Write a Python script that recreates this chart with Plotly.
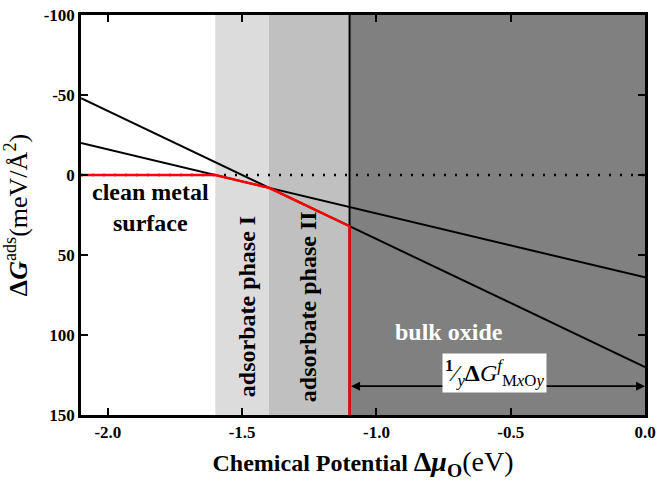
import plotly.graph_objects as go

# Data
mu = [-2.1, 0.0]
phase1_line = [-48, 120]      # steeper free energy line
phase2_line = [-20, 64]       # shallower free energy line
stable_x = [-2.1, -1.6, -1.4, -1.1, -1.1]
stable_y = [0, 0, 8, 32, 150]
region_bounds = [-1.6, -1.4, -1.1, 0.0]
region_colors = ["#dcdcdc", "#c0c0c0", "#808080"]
oxide_edge = -1.1
arrow_y = 132
x_ticks = [-2.0, -1.5, -1.0, -0.5, 0.0]
x_tick_text = ["-2.0", "-1.5", "-1.0", "-0.5", "0.0"]
y_ticks = [-100, -50, 0, 50, 100, 150]
y_tick_text = ["-100", "-50", "0", "50", "100", "150"]

SERIF = "Liberation Serif"

fig = go.Figure()

shapes = []
for i, c in enumerate(region_colors):
    shapes.append(dict(type="rect", xref="x", yref="y", x0=region_bounds[i], x1=region_bounds[i + 1],
                       y0=-100, y1=150, fillcolor=c, line=dict(width=0), layer="below"))
fig.update_layout(shapes=shapes)

fig.add_trace(go.Scatter(x=mu, y=[0, 0], mode="lines",
                         line=dict(color="black", width=2.5, dash="2px,9px"), hoverinfo="skip"))
fig.add_trace(go.Scatter(x=[oxide_edge, oxide_edge], y=[-100, 150], mode="lines",
                         line=dict(color="black", width=2), hoverinfo="skip"))
fig.add_trace(go.Scatter(x=mu, y=phase1_line, mode="lines", line=dict(color="black", width=2), hoverinfo="skip"))
fig.add_trace(go.Scatter(x=mu, y=phase2_line, mode="lines", line=dict(color="black", width=2), hoverinfo="skip"))
fig.add_trace(go.Scatter(x=stable_x, y=stable_y, mode="lines", line=dict(color="red", width=2.5), hoverinfo="skip"))

tf = dict(family=SERIF, size=17, color="black", weight="bold")

fig.update_xaxes(range=[-2.1, 0.0], tickvals=x_ticks, ticktext=x_tick_text,
                 ticks="inside", ticklen=7, tickwidth=2, tickcolor="black",
                 showline=True, linewidth=2.5, linecolor="black", mirror="ticks",
                 showgrid=False, zeroline=False, tickfont=tf, automargin=False,
                 title=dict(text="<b>Chemical Potential </b><span style='font-size:28px'><b>Δ<i>μ</i></b><sub><b>O</b></sub>(eV)</span>",
                            font=dict(family=SERIF, size=24, color="black"), standoff=18))
fig.update_yaxes(range=[150, -100], tickvals=y_ticks, ticktext=y_tick_text,
                 ticks="inside", ticklen=7, tickwidth=2, tickcolor="black",
                 showline=True, linewidth=2.5, linecolor="black", mirror="ticks",
                 showgrid=False, zeroline=False, tickfont=tf, automargin=False,
                 title=dict(text="<b>Δ<i>G</i></b><sup>ads</sup>(meV/Å<sup>2</sup>)",
                            font=dict(family=SERIF, size=26, color="black"), standoff=11))

ann = [
    dict(x=-1.843, y=20, text="<b>clean metal<br>surface</b>", showarrow=False,
         font=dict(family=SERIF, size=24, color="black")),
    dict(x=-1.482, y=82, text="<b>adsorbate phase I</b>", showarrow=False, textangle=-90,
         font=dict(family=SERIF, size=24, color="black")),
    dict(x=-1.255, y=82, text="<b>adsorbate phase II</b>", showarrow=False, textangle=-90,
         font=dict(family=SERIF, size=24, color="black")),
    dict(x=-0.73, y=98, text="<b>bulk oxide</b>", showarrow=False,
         font=dict(family=SERIF, size=24, color="white")),
    dict(x=0.0, y=arrow_y, ax=oxide_edge, ay=arrow_y, xref="x", yref="y", axref="x", ayref="y",
         text="", showarrow=True, arrowhead=2, arrowside="end+start", arrowwidth=1.8,
         arrowsize=1, arrowcolor="black"),
    dict(x=-0.56, y=123.5, text="<sup><b>1</b></sup>⁄<sub><i>y</i></sub><b>Δ</b><i>G</i><sup><i>f</i></sup><sub>M<i>x</i>O<i>y</i></sub>",
         showarrow=False, bgcolor="white", borderpad=2,
         font=dict(family=SERIF, size=24, color="black")),
]
fig.update_layout(annotations=ann, showlegend=False, width=659, height=481,
                  margin=dict(l=81, r=14, t=15, b=66, autoexpand=False),
                  plot_bgcolor="white", paper_bgcolor="white")

fig.write_html("out.html")
